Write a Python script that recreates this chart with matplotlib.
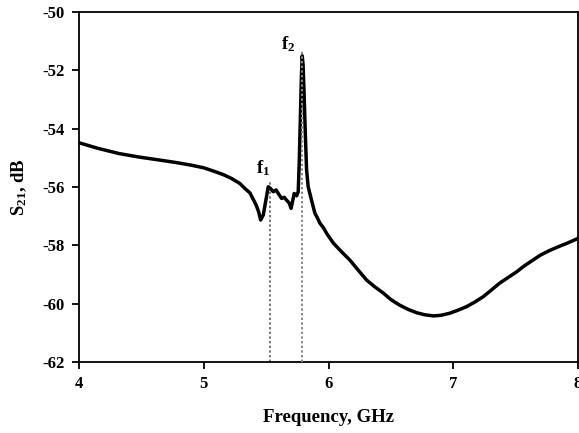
import numpy as np
import matplotlib
matplotlib.use("Agg")
import matplotlib.pyplot as plt

# S21 transmission
freq = [4.00, 4.15, 4.32, 4.48, 4.64, 4.78, 4.90, 5.00, 5.09, 5.16, 5.22, 5.29, 5.33,
        5.37, 5.40, 5.42, 5.44, 5.456, 5.477, 5.50, 5.517, 5.535, 5.557, 5.58, 5.597,
        5.624, 5.645, 5.664, 5.685, 5.70, 5.725, 5.745, 5.757, 5.765, 5.775, 5.782, 5.789,
        5.796, 5.805, 5.815, 5.824, 5.837, 5.855, 5.877, 5.891, 5.91, 5.931, 5.96, 5.985,
        6.04, 6.10, 6.17, 6.24, 6.305, 6.37, 6.44, 6.50, 6.57, 6.64, 6.706, 6.77,
        6.84, 6.90, 6.97, 7.04, 7.107, 7.17, 7.24, 7.30, 7.37, 7.44, 7.51, 7.57,
        7.64, 7.70, 7.77, 7.84, 7.91, 8.00]
s21 = [-54.48, -54.67, -54.85, -54.97, -55.07, -55.16, -55.25, -55.34, -55.47, -55.58,
       -55.70, -55.88, -56.05, -56.20, -56.45, -56.62, -56.85, -57.13, -56.96, -56.40,
       -55.99, -56.05, -56.16, -56.10, -56.22, -56.39, -56.35, -56.45, -56.55, -56.73,
       -56.22, -56.30, -56.16, -55.20, -53.50, -52.30, -51.50, -51.80, -52.90, -54.30,
       -55.40, -55.99, -56.30, -56.67, -56.90, -57.05, -57.24, -57.40, -57.59, -57.93,
       -58.20, -58.50, -58.86, -59.19, -59.42, -59.64, -59.86, -60.05, -60.20, -60.31,
       -60.38, -60.42, -60.40, -60.33, -60.22, -60.10, -59.95, -59.76, -59.55, -59.30,
       -59.10, -58.90, -58.70, -58.50, -58.33, -58.18, -58.05, -57.93, -57.76]

f1, f1_top = 5.53, -55.75
f2, f2_top = 5.79, -51.35

plt.rcParams['font.family'] = ['Liberation Serif', 'DejaVu Serif']
plt.rcParams['font.weight'] = 'bold'
plt.rcParams['axes.unicode_minus'] = False
plt.rcParams['mathtext.fontset'] = 'custom'
plt.rcParams['mathtext.rm'] = 'Liberation Serif:bold'
plt.rcParams['mathtext.it'] = 'Liberation Serif:bold'
plt.rcParams['mathtext.bf'] = 'Liberation Serif:bold'

fig = plt.figure(figsize=(5.79, 4.33), dpi=100)
ax = fig.add_axes([0.1364, 0.164, 0.862, 0.808])

ax.plot(freq, s21, color='black', lw=2.5, zorder=3)
ax.plot([f1, f1], [-62, f1_top], color='#777777', ls=(0, (1.2, 1.2)), lw=1.4, zorder=2)
ax.plot([f2, f2], [-62, f2_top], color='#888888', ls=(0, (1.2, 1.2)), lw=1.4, zorder=4)

ax.text(5.475, -55.35, r'$\mathrm{f_1}$', ha='center', va='center', fontsize=13.5)
ax.text(5.675, -51.1, r'$\mathrm{f_2}$', ha='center', va='center', fontsize=13.5)

ax.set_xlim(4, 8)
ax.set_ylim(-62, -50)
ax.set_xticks([4, 5, 6, 7, 8])
ax.set_yticks(np.arange(-62, -49, 2))
ax.tick_params(direction='out', length=5, width=1.3, labelsize=12, pad=5)
for s in ax.spines.values():
    s.set_linewidth(1.3)
for lab in ax.get_xticklabels() + ax.get_yticklabels():
    lab.set_fontweight('bold')

ax.set_xlabel('Frequency, GHz', fontsize=13.5, fontweight='bold', labelpad=12)
ax.set_ylabel(r'S$_{\mathrm{21}}$, dB', fontsize=13.5, fontweight='bold', labelpad=10)

fig.savefig('out.png', dpi=100)
